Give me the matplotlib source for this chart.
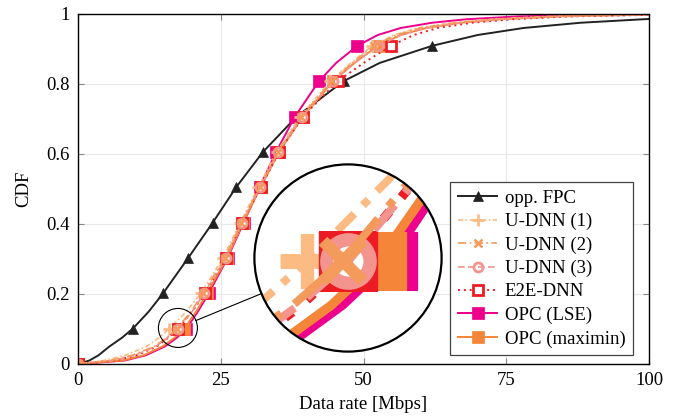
import numpy as np
import matplotlib
matplotlib.use("Agg")
import matplotlib.pyplot as plt
from matplotlib.patches import Circle, Ellipse
from matplotlib.lines import Line2D

plt.rcParams['font.family'] = ['Liberation Serif', 'DejaVu Serif']
FS = 13.5
plt.rcParams['font.size'] = FS

# CDF levels shared by all series
cdf_levels = [0, 0.01, 0.025, 0.05, 0.075, 0.101, 0.15, 0.202, 0.303, 0.404, 0.505,
              0.606, 0.707, 0.808, 0.86, 0.909, 0.94, 0.96, 0.975, 0.985, 0.993, 1.0]
marker_idx = [0, 5, 7, 8, 9, 10, 11, 12, 13, 15]

# data rate [Mbps] at each CDF level
rate_fpc = [0, 2.0, 3.6, 5.5, 7.7, 9.6, 12.4, 14.9, 19.3, 23.6, 27.7,
            32.4, 38.3, 46.5, 52.8, 62.0, 70.0, 78.0, 88.0, 99.0, 112.0, 140.0]
rate_udnn1 = [0, 4.5, 8.3, 12.0, 14.2, 16.0, 19.0, 21.5, 25.4, 28.4, 31.6,
              34.8, 38.9, 44.2, 47.8, 51.5, 55.3, 59.5, 65.5, 72.5, 82.0, 102.0]
rate_udnn2 = [0, 5.5, 9.5, 13.3, 15.5, 17.3, 19.8, 21.9, 25.7, 28.6, 31.8,
              35.0, 39.1, 44.4, 48.0, 51.8, 55.7, 60.0, 66.0, 73.0, 83.0, 103.0]
rate_udnn3 = [0, 6.0, 10.0, 13.6, 15.7, 17.5, 20.0, 22.1, 25.9, 28.7, 31.9,
              35.1, 39.3, 44.6, 48.4, 52.6, 56.6, 61.0, 67.0, 74.0, 84.0, 105.0]
rate_e2e = [0, 6.5, 10.3, 13.8, 15.8, 17.5, 20.0, 22.2, 25.9, 28.7, 32.0,
            35.2, 39.4, 45.5, 50.0, 54.8, 58.8, 63.0, 69.0, 76.0, 86.0, 108.0]
rate_lse = [0, 8.2, 11.9, 15.2, 17.3, 19.0, 21.0, 22.9, 26.2, 29.0, 31.8,
            34.7, 38.0, 42.2, 45.2, 48.9, 52.5, 56.5, 62.0, 68.0, 77.0, 95.0]
rate_maximin = [0, 7.8, 11.5, 14.8, 16.9, 18.6, 20.7, 22.6, 26.1, 28.9, 32.0,
                35.2, 39.4, 44.7, 48.4, 52.5, 56.5, 61.0, 67.0, 74.0, 84.0, 105.0]

labels = ['opp. FPC', 'U-DNN (1)', 'U-DNN (2)', 'U-DNN (3)', 'E2E-DNN', 'OPC (LSE)', 'OPC (maximin)']
xticks = [0, 25, 50, 75, 100]
yticks = [0, 0.2, 0.4, 0.6, 0.8, 1]
yticklabels = ['0', '0.2', '0.4', '0.6', '0.8', '1']

styles = {
    'opp. FPC': dict(color='#222222', ls='-', lw=1.4, marker='^', ms=7.5, mfc='#222222', mec='#222222', mew=0.5),
    'OPC (LSE)': dict(color='#ec008c', ls='-', lw=1.4, marker='s', ms=8, mfc='#ec008c', mec='#ec008c', mew=0.5),
    'OPC (maximin)': dict(color='#f58538', ls='-', lw=1.4, marker='s', ms=8, mfc='#f58538', mec='#f58538', mew=0.5),
    'U-DNN (1)': dict(color='#fdbb84', ls=(0, (3, 1.5, 1, 1.5)), lw=1.2, marker='+', ms=8, mfc='#fdbb84', mec='#fdbb84', mew=2),
    'E2E-DNN': dict(color='#ed1c24', ls=(0, (1, 2)), lw=1.4, marker='s', ms=7, mfc='white', mec='#ed1c24', mew=2),
    'U-DNN (3)': dict(color='#f4948e', ls=(0, (4, 2)), lw=1.2, marker='o', ms=6.5, mfc='none', mec='#f4948e', mew=2),
    'U-DNN (2)': dict(color='#f49a5a', ls=(0, (5, 2, 1, 2)), lw=1.2, marker='x', ms=6, mfc='#f49a5a', mec='#f49a5a', mew=1.8),
}
rates = {'opp. FPC': rate_fpc, 'U-DNN (1)': rate_udnn1, 'U-DNN (2)': rate_udnn2,
         'U-DNN (3)': rate_udnn3, 'E2E-DNN': rate_e2e, 'OPC (LSE)': rate_lse,
         'OPC (maximin)': rate_maximin}
draw_order = ['opp. FPC', 'OPC (LSE)', 'OPC (maximin)', 'U-DNN (1)', 'E2E-DNN', 'U-DNN (3)', 'U-DNN (2)']

W, H = 678, 418
fig = plt.figure(figsize=(W / 100, H / 100), dpi=100)
L, R, T, B = 78, 649, 14, 364
ax = fig.add_axes([L / W, 1 - B / H, (R - L) / W, (B - T) / H])

handles = {}
for name in draw_order:
    h, = ax.plot(rates[name], cdf_levels, markevery=marker_idx, label=name, **styles[name])
    handles[name] = h

ax.set_xlim(0, 100)
ax.set_ylim(0, 1)
ax.set_xticks(xticks)
ax.set_xticklabels([str(t) for t in xticks])
ax.set_yticks(yticks)
ax.set_yticklabels(yticklabels)
ax.grid(True, color='#e8e8e8', lw=0.8)
ax.set_axisbelow(True)
ax.tick_params(direction='in', top=True, right=True, length=4, color='#888888',
               labelsize=FS, pad=6)
for sp in ax.spines.values():
    sp.set_linewidth(1.0)
ax.set_xlabel('Data rate [Mbps]', fontsize=FS, labelpad=5)
ax.set_ylabel('CDF', fontsize=FS, labelpad=10)

leg = ax.legend([handles[n] for n in labels], labels, loc='lower right',
                bbox_to_anchor=((633 - L) / (R - L), (B - 355) / (B - T)),
                borderaxespad=0, fancybox=False, framealpha=1, edgecolor='#444444',
                handlelength=2.1, labelspacing=0.33, borderpad=0.4, handletextpad=0.4,
                fontsize=FS)
leg.get_frame().set_linewidth(0.9)
leg.set_zorder(20)

# spy / magnifier
ppx = (R - L) / 100.0
ppy = (B - T) / 1.0
cx_d, cy_d = 17.5, 0.103
rs = 19.5
mag = 4.8
cxp, cyp = L + cx_d * ppx, B - cy_d * ppy
bxp, byp = 348, 258
rb = rs * mag

ax.add_patch(Ellipse((cx_d, cy_d), 2 * rs / ppx, 2 * rs / ppy, fill=False,
                     edgecolor='black', lw=0.8, zorder=15))
dx, dy = bxp - cxp, byp - cyp
dist = np.hypot(dx, dy)
ux, uy = dx / dist, dy / dist
x0, y0 = cxp + ux * rs, cyp + uy * rs
x1, y1 = bxp - ux * rb, byp - uy * rb
fig.add_artist(Line2D([x0 / W, x1 / W], [1 - y0 / H, 1 - y1 / H], transform=fig.transFigure,
                      color='black', lw=0.8, zorder=15))

axin = fig.add_axes([(bxp - rb) / W, 1 - (byp + rb) / H, 2 * rb / W, 2 * rb / H])
axin.set_zorder(10)
axin.axis('off')
half_x = rb / mag / ppx
half_y = rb / mag / ppy
axin.set_xlim(cx_d - half_x, cx_d + half_x)
axin.set_ylim(cy_d - half_y, cy_d + half_y)
axin.add_patch(Circle((0.5, 0.5), 0.5, transform=axin.transAxes, facecolor='white',
                      edgecolor='none', zorder=0))
clip = Circle((0.5, 0.5), 0.5, transform=axin.transAxes, facecolor='none', edgecolor='none')
axin.add_patch(clip)
for name in draw_order:
    st = dict(styles[name])
    st['lw'] = st['lw'] * mag
    st['ms'] = st['ms'] * mag
    st['mew'] = st['mew'] * mag
    ln, = axin.plot(rates[name], cdf_levels, markevery=marker_idx, zorder=2, **st)
    ln.set_clip_path(clip)
axin.add_patch(Circle((0.5, 0.5), 0.5, transform=axin.transAxes, facecolor='none',
                      edgecolor='black', lw=1.6, zorder=5, clip_on=False))

fig.savefig('out.png', dpi=100)
